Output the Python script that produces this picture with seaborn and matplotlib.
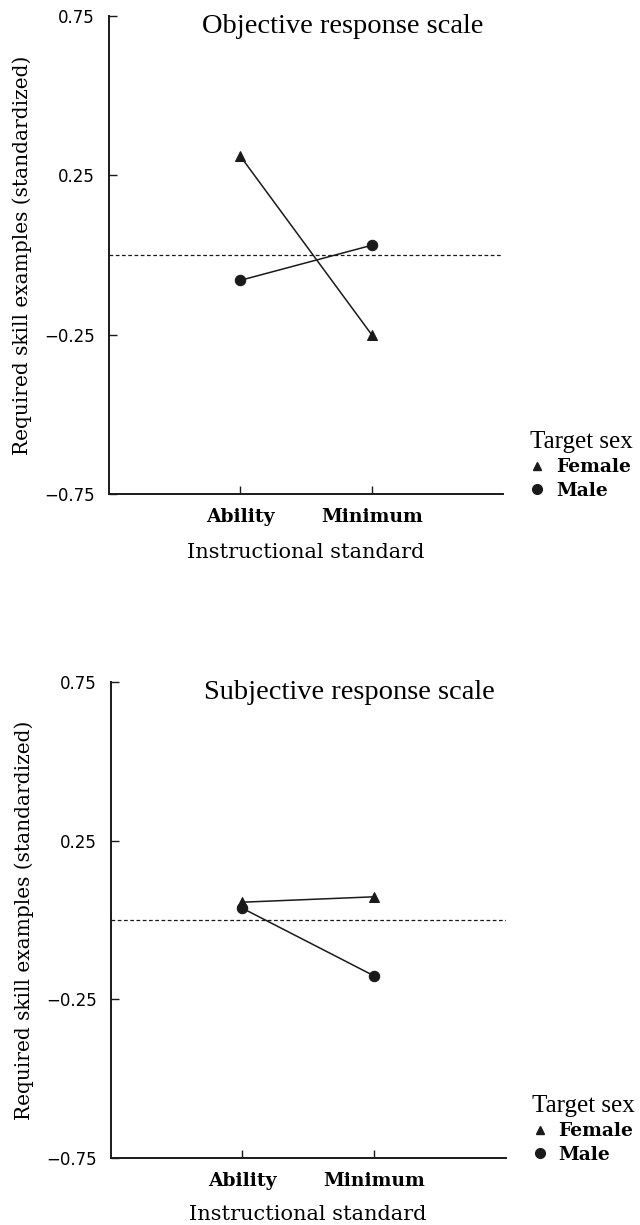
import matplotlib
matplotlib.use("Agg")
import matplotlib.pyplot as plt
import pandas as pd
import seaborn as sns
from matplotlib.lines import Line2D

# Valores (escores padronizados)
STANDARDS = ["Ability", "Minimum"]
SEXES = ["Female", "Male"]
OBJ_FEMALE = [0.31, -0.25]
OBJ_MALE = [-0.08, 0.03]
SUBJ_FEMALE = [0.056, 0.073]
SUBJ_MALE = [0.037, -0.176]
Y_TICKS = [0.75, 0.25, -0.25, -0.75]
TITLES = ["Objective response scale", "Subjective response scale"]

sns.set_theme(style="white")
plt.rcParams["font.family"] = ["DejaVu Serif"]
for key in ["text.color", "axes.labelcolor", "xtick.color", "ytick.color"]:
    plt.rcParams[key] = "black"

MARKERS = {"Female": "^", "Male": "o"}
MSIZE = {"Female": 6.5, "Male": 7.5}


def make_df(female, male):
    rows = []
    for sex, vals in zip(SEXES, [female, male]):
        for std, v in zip(STANDARDS, vals):
            rows.append({"standard": std, "value": v, "sex": sex})
    return pd.DataFrame(rows)


def draw_panel(ax, df, title, xlabelpad):
    for sex in SEXES:
        sub = df[df["sex"] == sex]
        sns.lineplot(data=sub, x="standard", y="value", ax=ax, color="k",
                     marker=MARKERS[sex], markersize=MSIZE[sex],
                     markeredgecolor="k", linewidth=1.1, legend=False)
    ax.axhline(0, color="k", linestyle=(0, (3, 2)), linewidth=0.9)
    ax.set_xlim(-1, 2)
    ax.set_ylim(-0.75, 0.75)
    ax.set_yticks(Y_TICKS)
    ax.set_yticklabels([f"{t:.2f}".replace("-", "\u2212") for t in Y_TICKS],
                       family="DejaVu Sans", fontsize=12)
    ax.set_xticks([0, 1])
    ax.set_xticklabels(STANDARDS, fontweight="bold", fontsize=13.5)
    ax.tick_params(direction="in", length=6, width=1, color="k",
                   left=True, bottom=True)
    ax.tick_params(axis="y", pad=10)
    ax.tick_params(axis="x", pad=10)
    for side in ["top", "right"]:
        ax.spines[side].set_visible(False)
    for side in ["left", "bottom"]:
        ax.spines[side].set_color("k")
        ax.spines[side].set_linewidth(1.4)
    ax.set_xlabel("Instructional standard", fontsize=15, labelpad=xlabelpad)
    ax.set_ylabel("Required skill examples (standardized)", fontsize=14.5,
                  labelpad=9)
    ax.text(0.236, 0.977, title, transform=ax.transAxes, ha="left",
            va="center", fontsize=20.5, family="Liberation Serif")

    handles = [Line2D([], [], linestyle="none", marker=MARKERS[s],
                      markersize=MSIZE[s] - 0.5, color="k") for s in SEXES]
    leg = ax.legend(handles, SEXES, title="Target sex", loc="lower left",
                    bbox_to_anchor=(1.044, -0.032), frameon=False,
                    borderpad=0, handlelength=0.8, handletextpad=0.6,
                    labelspacing=0.3, alignment="left",
                    prop={"weight": "bold", "size": 13.5})
    leg.get_title().set_fontsize(18)
    leg.get_title().set_family("Liberation Serif")


fig = plt.figure(figsize=(6.4, 12.25), dpi=100)
ax1 = fig.add_axes([0.170, 0.5967, 0.616, 0.3905])
ax2 = fig.add_axes([0.173, 0.0547, 0.617, 0.3886])

draw_panel(ax1, make_df(OBJ_FEMALE, OBJ_MALE), TITLES[0], 12)
draw_panel(ax2, make_df(SUBJ_FEMALE, SUBJ_MALE), TITLES[1], 11)

fig.savefig("out.png", dpi=100, facecolor="white")
